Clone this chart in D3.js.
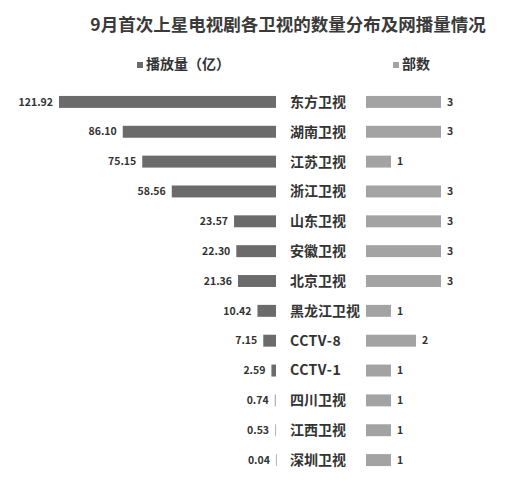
<!DOCTYPE html>
<html>
<head>
<meta charset="utf-8">
<script src="https://cdn.jsdelivr.net/npm/d3@7"></script>
<style>
  body { margin: 0; background: #fff; }
  text { font-family: "Noto Sans CJK SC", "Noto Sans", sans-serif; font-weight: bold; fill: #333; }
</style>
</head>
<body>
<svg></svg>
<script>
const channels = ['东方卫视', '湖南卫视', '江苏卫视', '浙江卫视', '山东卫视', '安徽卫视', '北京卫视',
  '黑龙江卫视', 'CCTV-8', 'CCTV-1', '四川卫视', '江西卫视', '深圳卫视'];
const plays = [121.92, 86.10, 75.15, 58.56, 23.57, 22.30, 21.36, 10.42, 7.15, 2.59, 0.74, 0.53, 0.04];
const counts = [3, 3, 1, 3, 3, 3, 3, 1, 2, 1, 1, 1, 1];
const legendNames = ['播放量（亿）', '部数'];

const width = 513, height = 489;
const svg = d3.select('svg').attr('width', width).attr('height', height);

const data = channels.map((c, i) => ({channel: c, plays: plays[i], count: counts[i]}));

const yScale = d3.scaleBand()
  .domain(channels)
  .range([87, 475])
  .paddingInner(0.6)
  .paddingOuter(0.3);

// left side grows leftward from x=276
const xLeft = d3.scaleLinear().domain([0, 121.92]).range([276, 59]);
const xRight = d3.scaleLinear().domain([0, 3]).range([366, 441]);

svg.append('text')
  .attr('x', 288).attr('y', 31)
  .attr('text-anchor', 'middle')
  .style('font-size', '17.5px')
  .style('fill', '#3a3a3a')
  .text('9月首次上星电视剧各卫视的数量分布及网播量情况');

// legends
const legend = [{x: 137, color: '#6b6b6b', name: legendNames[0]}, {x: 393, color: '#a3a3a3', name: legendNames[1]}];
const lg = svg.selectAll('.legend').data(legend).enter().append('g')
  .attr('transform', d => `translate(${d.x}, 65)`);
lg.append('rect').attr('y', -3).attr('width', 6).attr('height', 6).attr('fill', d => d.color);
lg.append('text').attr('x', 9).attr('y', -1).attr('dy', '0.35em').style('font-size', '14px').text(d => d.name);

const rows = svg.selectAll('.row').data(data).enter().append('g').attr('class', 'row');

rows.append('rect')
  .attr('x', d => xLeft(d.plays))
  .attr('y', d => yScale(d.channel))
  .attr('width', d => Math.max(1, xLeft(0) - xLeft(d.plays)))
  .attr('height', yScale.bandwidth())
  .attr('fill', d => d.plays < 1 ? '#b5b5b5' : '#6b6b6b');

rows.append('text')
  .attr('x', d => xLeft(d.plays) - 6)
  .attr('y', d => yScale(d.channel) + yScale.bandwidth() / 2)
  .attr('dy', '0.35em')
  .attr('text-anchor', 'end')
  .style('font-size', '10.5px')
  .text(d => d3.format('.2f')(d.plays));

rows.append('text')
  .attr('x', 290)
  .attr('y', d => yScale(d.channel) + yScale.bandwidth() / 2)
  .attr('dy', '0.35em')
  .style('font-size', '14px')
  .style('letter-spacing', d => /^[A-Z]/.test(d.channel) ? '0.5px' : null)
  .text(d => d.channel);

rows.append('rect')
  .attr('x', xRight(0))
  .attr('y', d => yScale(d.channel))
  .attr('width', d => xRight(d.count) - xRight(0))
  .attr('height', yScale.bandwidth())
  .attr('fill', '#a3a3a3');

rows.append('text')
  .attr('x', d => xRight(d.count) + 6)
  .attr('y', d => yScale(d.channel) + yScale.bandwidth() / 2)
  .attr('dy', '0.35em')
  .style('font-size', '10.5px')
  .text(d => d.count);
</script>
</body>
</html>
